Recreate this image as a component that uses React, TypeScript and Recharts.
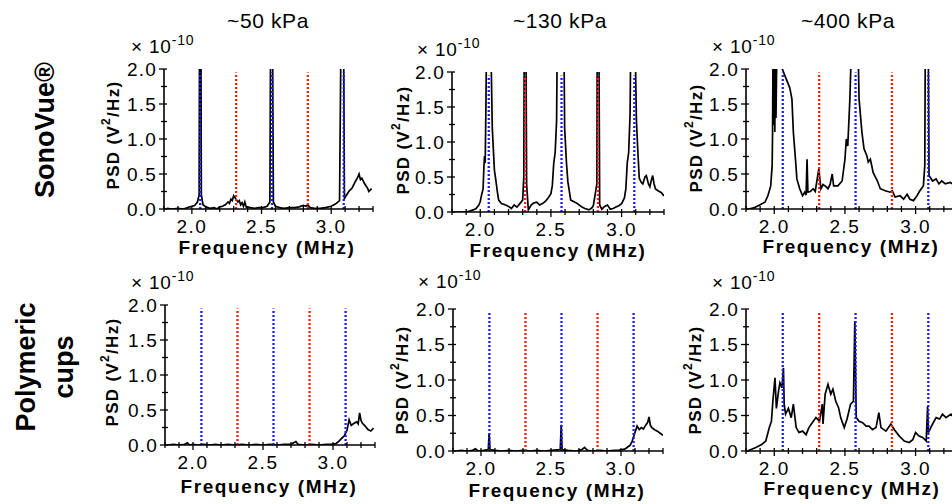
import { Line, LineChart, ReferenceLine, XAxis, YAxis } from 'recharts'

const FONT = "Arial, 'Liberation Sans', sans-serif"

// PSD values in units of 1e-10 V^2/Hz, [frequency MHz, psd]
const sono50 = [
  [1.82, 0.01], [1.86, 0.0], [1.9, 0.01], [1.94, 0.0], [1.97, 0.02], [2.0, 0.04], [2.02, 0.05], [2.04, 0.1],
  [2.052, 0.2], [2.057, 4], [2.063, 4], [2.068, 0.2], [2.08, 0.06], [2.1, 0.03], [2.13, 0.01], [2.16, 0.02],
  [2.18, 0.0], [2.2, 0.03], [2.22, 0.04], [2.24, 0.06], [2.26, 0.1], [2.27, 0.08], [2.28, 0.14], [2.29, 0.12],
  [2.3, 0.19], [2.31, 0.16], [2.32, 0.13], [2.33, 0.1], [2.34, 0.12], [2.35, 0.06], [2.36, 0.09], [2.37, 0.04],
  [2.38, 0.1], [2.39, 0.03], [2.42, 0.02], [2.45, 0.01], [2.48, 0.02], [2.51, 0.02], [2.54, 0.04], [2.56, 0.1],
  [2.568, 4], [2.575, 4], [2.585, 0.1], [2.6, 0.04], [2.63, 0.02], [2.66, 0.01], [2.7, 0.02], [2.74, 0.02],
  [2.77, 0.03], [2.8, 0.05], [2.82, 0.04], [2.83, 0.06], [2.85, 0.02], [2.88, 0.01], [2.92, 0.01], [2.96, 0.02],
  [3.0, 0.04], [3.03, 0.07], [3.06, 0.12], [3.077, 4], [3.085, 4], [3.095, 0.15], [3.11, 0.2], [3.13, 0.26],
  [3.15, 0.3], [3.17, 0.38], [3.19, 0.45], [3.2, 0.5], [3.21, 0.42], [3.22, 0.44], [3.24, 0.36], [3.26, 0.3],
  [3.27, 0.25], [3.29, 0.29],
]

const sono130 = [
  [1.82, 0.0], [1.88, 0.0], [1.92, 0.01], [1.95, 0.03], [1.97, 0.05], [1.99, 0.1], [2.0, 0.15], [2.01, 0.25],
  [2.02, 0.33], [2.025, 0.6], [2.03, 0.8], [2.035, 0.7], [2.04, 1.5], [2.045, 2.6], [2.055, 3.5], [2.065, 3.2],
  [2.075, 2.4], [2.085, 1.2], [2.1, 0.6], [2.11, 0.46], [2.12, 0.3], [2.13, 0.17], [2.15, 0.12], [2.18, 0.1],
  [2.2, 0.08], [2.22, 0.05], [2.24, 0.1], [2.26, 0.07], [2.28, 0.12], [2.3, 0.17], [2.308, 0.5], [2.312, 3],
  [2.322, 3], [2.328, 0.4], [2.34, 0.03], [2.36, 0.1], [2.38, 0.13], [2.4, 0.14], [2.42, 0.1], [2.44, 0.12],
  [2.46, 0.15], [2.48, 0.2], [2.5, 0.26], [2.51, 0.38], [2.52, 0.7], [2.53, 0.85], [2.54, 1.3], [2.545, 2.5],
  [2.56, 3.5], [2.58, 3], [2.592, 2.4], [2.597, 1.2], [2.61, 0.7], [2.62, 0.43], [2.64, 0.17], [2.66, 0.15],
  [2.68, 0.13], [2.7, 0.1], [2.72, 0.07], [2.74, 0.05], [2.77, 0.03], [2.79, 0.06], [2.8, 0.09], [2.825, 0.4],
  [2.828, 3], [2.838, 3], [2.845, 0.1], [2.86, 0.04], [2.88, 0.08], [2.9, 0.1], [2.92, 0.04], [2.94, 0.05],
  [2.96, 0.07], [2.98, 0.09], [3.0, 0.12], [3.02, 0.2], [3.03, 0.33], [3.04, 0.7], [3.05, 0.85], [3.06, 1.4],
  [3.065, 2.5], [3.08, 3.5], [3.095, 2.5], [3.105, 1.3], [3.115, 0.86], [3.125, 0.48], [3.14, 0.42], [3.15, 0.4],
  [3.165, 0.5], [3.175, 0.52], [3.19, 0.4], [3.2, 0.36], [3.21, 0.45], [3.22, 0.52], [3.23, 0.4], [3.24, 0.33],
  [3.26, 0.3], [3.28, 0.28], [3.3, 0.23],
]

const sono400 = [
  [1.82, 0.0], [1.86, 0.02], [1.9, 0.06], [1.935, 0.1], [1.955, 0.19], [1.975, 0.33], [1.985, 0.62], [1.988, 1.1],
  [1.992, 2.6], [1.996, 1.2], [2.0, 2.6], [2.004, 1.1], [2.008, 2.6], [2.012, 1.3], [2.02, 2.5], [2.04, 2.6],
  [2.053, 2.02], [2.08, 1.88], [2.1, 1.78], [2.11, 1.73], [2.125, 1.57], [2.135, 1.1], [2.15, 0.71], [2.16, 0.43],
  [2.18, 0.29], [2.2, 0.19], [2.215, 0.24], [2.225, 0.2], [2.232, 0.71], [2.238, 0.24], [2.255, 0.25], [2.275, 0.29],
  [2.29, 0.25], [2.3, 0.38], [2.315, 0.57], [2.33, 0.29], [2.345, 0.35], [2.36, 0.33], [2.38, 0.29], [2.395, 0.35],
  [2.41, 0.5], [2.42, 0.33], [2.45, 0.33], [2.48, 0.4], [2.5, 0.71], [2.51, 1.0], [2.52, 0.9], [2.535, 1.57],
  [2.55, 2.6], [2.57, 3], [2.59, 2.6], [2.6, 1.57], [2.62, 1.1], [2.635, 0.86], [2.655, 0.76], [2.665, 0.67],
  [2.68, 0.71], [2.7, 0.52], [2.73, 0.4], [2.75, 0.29], [2.785, 0.26], [2.82, 0.24], [2.835, 0.26], [2.855, 0.17],
  [2.89, 0.19], [2.915, 0.14], [2.94, 0.21], [2.96, 0.14], [2.985, 0.12], [3.01, 0.19], [3.03, 0.26], [3.055, 0.33],
  [3.065, 0.62], [3.072, 4], [3.085, 4], [3.095, 0.48], [3.12, 0.4], [3.145, 0.43], [3.165, 0.36], [3.185, 0.4],
  [3.21, 0.36], [3.245, 0.38], [3.27, 0.35], [3.3, 0.3],
]

const cups50 = [
  [1.82, 0.0], [1.86, 0.01], [1.9, 0.0], [1.94, 0.01], [1.96, 0.03], [1.975, 0.0], [2.0, 0.01], [2.04, 0.0],
  [2.08, 0.01], [2.12, 0.0], [2.16, 0.01], [2.2, 0.0], [2.25, 0.01], [2.3, 0.0], [2.35, 0.01], [2.4, 0.0],
  [2.45, 0.01], [2.5, 0.0], [2.55, 0.01], [2.6, 0.0], [2.65, 0.01], [2.7, 0.01], [2.735, 0.05], [2.75, 0.01],
  [2.8, 0.0], [2.85, 0.01], [2.9, 0.0], [2.95, 0.01], [2.99, 0.01], [3.02, 0.02], [3.04, 0.05], [3.06, 0.09],
  [3.08, 0.13], [3.1, 0.21], [3.115, 0.36], [3.13, 0.28], [3.15, 0.31], [3.17, 0.33], [3.18, 0.3], [3.19, 0.46],
  [3.2, 0.35], [3.21, 0.31], [3.23, 0.27], [3.25, 0.22], [3.27, 0.2], [3.29, 0.24],
]

const cups130 = [
  [1.82, 0.0], [1.86, 0.01], [1.9, 0.0], [1.94, 0.01], [1.96, 0.03], [1.98, 0.0], [2.02, 0.01], [2.052, 0.02],
  [2.058, 0.25], [2.064, 0.02], [2.1, 0.01], [2.15, 0.0], [2.2, 0.01], [2.25, 0.0], [2.3, 0.01], [2.35, 0.0],
  [2.4, 0.01], [2.45, 0.0], [2.5, 0.01], [2.566, 0.02], [2.573, 0.37], [2.579, 0.02], [2.62, 0.01], [2.68, 0.0],
  [2.72, 0.02], [2.74, 0.05], [2.76, 0.01], [2.8, 0.0], [2.85, 0.01], [2.9, 0.0], [2.95, 0.01], [2.98, 0.01],
  [3.01, 0.02], [3.03, 0.03], [3.05, 0.06], [3.065, 0.08], [3.08, 0.14], [3.1, 0.26], [3.115, 0.35], [3.13, 0.3],
  [3.145, 0.33], [3.16, 0.31], [3.175, 0.36], [3.19, 0.4], [3.2, 0.48], [3.21, 0.36], [3.22, 0.33], [3.24, 0.3],
  [3.26, 0.28], [3.28, 0.25], [3.3, 0.22],
]

const cups400 = [
  [1.81, 0.0], [1.87, 0.05], [1.91, 0.09], [1.94, 0.14], [1.965, 0.33], [1.98, 0.42], [1.99, 0.7], [2.005, 1.03],
  [2.015, 0.6], [2.03, 0.84], [2.04, 0.96], [2.055, 0.89], [2.065, 1.17], [2.07, 0.66], [2.08, 0.52], [2.1, 0.6],
  [2.12, 0.47], [2.135, 0.66], [2.155, 0.33], [2.175, 0.26], [2.2, 0.28], [2.225, 0.23], [2.245, 0.33], [2.27, 0.4],
  [2.295, 0.47], [2.32, 0.42], [2.34, 0.66], [2.345, 0.38], [2.36, 0.8], [2.38, 0.94], [2.4, 0.8], [2.415, 0.87],
  [2.435, 0.7], [2.455, 0.61], [2.47, 0.47], [2.495, 0.33], [2.515, 0.45], [2.54, 0.66], [2.56, 0.7], [2.57, 1.83],
  [2.58, 0.47], [2.6, 0.42], [2.625, 0.4], [2.65, 0.35], [2.67, 0.35], [2.695, 0.3], [2.72, 0.33], [2.74, 0.54],
  [2.755, 0.33], [2.79, 0.28], [2.825, 0.38], [2.85, 0.3], [2.885, 0.21], [2.92, 0.14], [2.955, 0.12], [2.98, 0.16],
  [3.0, 0.26], [3.025, 0.21], [3.05, 0.19], [3.075, 0.14], [3.085, 0.63], [3.09, 0.26], [3.12, 0.38], [3.145, 0.47],
  [3.17, 0.45], [3.19, 0.52], [3.215, 0.47], [3.25, 0.52], [3.3, 0.4],
]

const titles = ['~50 kPa', '~130 kPa', '~400 kPa']
const harmonics = [2.06, 2.575, 3.09]
const ultraharmonics = [2.3175, 2.8325]
const xTicks = [1.8, 1.9, 2.0, 2.1, 2.2, 2.3, 2.4, 2.5, 2.6, 2.7, 2.8, 2.9, 3.0, 3.1, 3.2, 3.3]
const xLabels = [2.0, 2.5, 3.0]
const yTicks = [0, 0.25, 0.5, 0.75, 1.0, 1.25, 1.5, 1.75, 2.0]
const yLabels = [0, 0.5, 1.0, 1.5, 2.0]

type Box = { x0: number; x1: number; y0: number; y1: number }

const panels: Array<{ data: number[][]; box: Box }> = [
  { data: sono50, box: { x0: 164, x1: 373, y0: 69, y1: 209 } },
  { data: sono130, box: { x0: 452, x1: 664, y0: 72, y1: 212 } },
  { data: sono400, box: { x0: 746, x1: 958, y0: 69, y1: 209 } },
  { data: cups50, box: { x0: 165, x1: 375, y0: 305, y1: 445 } },
  { data: cups130, box: { x0: 453, x1: 663, y0: 309, y1: 451 } },
  { data: cups400, box: { x0: 746, x1: 958, y0: 309, y1: 451 } },
]

const isLabel = (v: number, list: number[]) => list.some((l) => Math.abs(l - v) < 1e-6)

function XTick({ x, y, payload }: any) {
  const v = payload.value as number
  const major = isLabel(v, xLabels)
  return (
    <g>
      <line x1={x} x2={x} y1={y - 3} y2={y + (major ? 5 : 3)} stroke="#000" strokeWidth={1.3} />
      {major ? (
        <text x={x} y={y + 17} textAnchor="middle" dominantBaseline="central" fontSize={19} letterSpacing={1.5} fill="#000" fontFamily={FONT}>
          {v.toFixed(1)}
        </text>
      ) : null}
    </g>
  )
}

function YTick({ x, y, payload }: any) {
  const v = payload.value as number
  const major = isLabel(v, yLabels)
  return (
    <g>
      <line x1={x - (major ? 5 : 3)} x2={x + 3} y1={y} y2={y} stroke="#000" strokeWidth={1.3} />
      {major ? (
        <text x={x - 7} y={y} textAnchor="end" dominantBaseline="central" fontSize={19} letterSpacing={1.2} fill="#000" fontFamily={FONT}>
          {v.toFixed(1)}
        </text>
      ) : null}
    </g>
  )
}

const ML = 50
const MT = 10
const MR = 14
const MB = 30

function Panel({ data, box }: { data: number[][]; box: Box }) {
  const rows = data.map(([f, p]) => ({ f, p }))
  const width = box.x1 - box.x0 + ML + MR
  const height = box.y1 - box.y0 + MT + MB
  return (
    <div style={{ position: 'absolute', left: box.x0 - ML, top: box.y0 - MT }}>
      <LineChart width={width} height={height} data={rows} margin={{ top: MT, right: MR, left: 0, bottom: 0 }}>
        <XAxis
          type="number"
          dataKey="f"
          domain={[1.8, 3.3]}
          ticks={xTicks}
          interval={0}
          allowDataOverflow
          height={MB}
          tickSize={0}
          tickMargin={0}
          tickLine={false}
          tick={<XTick />}
          axisLine={{ stroke: '#000', strokeWidth: 1.6 }}
        />
        <YAxis
          type="number"
          domain={[0, 2]}
          ticks={yTicks}
          interval={0}
          allowDataOverflow
          width={ML}
          tickSize={0}
          tickMargin={0}
          tickLine={false}
          tick={<YTick />}
          axisLine={{ stroke: '#000', strokeWidth: 1.6 }}
        />
        <Line dataKey="p" type="linear" stroke="#000" strokeWidth={1.7} dot={false} isAnimationActive={false} />
        {harmonics.map((f) => (
          <ReferenceLine
            key={`h${f}`}
            segment={[{ x: f, y: 0 }, { x: f, y: 1.95 }]}
            stroke="#1a1aff"
            strokeWidth={2.3}
            strokeDasharray="2 2"
          />
        ))}
        {ultraharmonics.map((f) => (
          <ReferenceLine
            key={`u${f}`}
            segment={[{ x: f, y: 0 }, { x: f, y: 1.95 }]}
            stroke="#ff1a1a"
            strokeWidth={2.3}
            strokeDasharray="2 2"
          />
        ))}
      </LineChart>
    </div>
  )
}

function Exponent({ x, y }: { x: number; y: number }) {
  return (
    <text x={x} y={y} fontSize={19} letterSpacing={0.8} fill="#000">
      × 10
      <tspan dy={-8} fontSize={14}>
        -10
      </tspan>
    </text>
  )
}

function PsdLabel({ cx, cy }: { cx: number; cy: number }) {
  return (
    <text
      transform={`translate(${cx},${cy}) rotate(-90)`}
      textAnchor="middle"
      dominantBaseline="central"
      fontSize={17}
      fontWeight="bold"
      letterSpacing={1.3}
      fill="#000"
    >
      PSD (V
      <tspan dy={-7} fontSize={12}>
        2
      </tspan>
      <tspan dy={7}>/Hz)</tspan>
    </text>
  )
}

function FreqLabel({ cx, cy }: { cx: number; cy: number }) {
  return (
    <text x={cx} y={cy} textAnchor="middle" dominantBaseline="central" fontSize={19} fontWeight="bold" letterSpacing={1.6} fill="#000">
      Frequency (MHz)
    </text>
  )
}

export default function App() {
  return (
    <div
      style={{
        position: 'absolute',
        left: 0,
        top: 0,
        width: 952,
        height: 504,
        overflow: 'hidden',
        background: '#fff',
        fontFamily: FONT,
      }}
    >
      {panels.map((p, i) => (
        <Panel key={i} data={p.data} box={p.box} />
      ))}
      <svg width={952} height={504} style={{ position: 'absolute', left: 0, top: 0, pointerEvents: 'none' }} fontFamily={FONT}>
        <text x={268} y={28} textAnchor="middle" fontSize={21} letterSpacing={0.6}>{titles[0]}</text>
        <text x={560} y={28} textAnchor="middle" fontSize={21} letterSpacing={0.6}>{titles[1]}</text>
        <text x={848} y={28} textAnchor="middle" fontSize={21} letterSpacing={0.6}>{titles[2]}</text>

        <Exponent x={131} y={53} />
        <Exponent x={417} y={56} />
        <Exponent x={712} y={53} />
        <Exponent x={131} y={289} />
        <Exponent x={418} y={288} />
        <Exponent x={712} y={289} />

        <PsdLabel cx={113} cy={135} />
        <PsdLabel cx={403} cy={140} />
        <PsdLabel cx={696} cy={138} />
        <PsdLabel cx={112} cy={372} />
        <PsdLabel cx={402} cy={380} />
        <PsdLabel cx={695} cy={380} />

        <FreqLabel cx={267} cy={247} />
        <FreqLabel cx={558} cy={250} />
        <FreqLabel cx={851} cy={246} />
        <FreqLabel cx={269} cy={486} />
        <FreqLabel cx={557} cy={490} />
        <FreqLabel cx={852} cy={488} />

        <text transform="translate(45,130) rotate(-90)" textAnchor="middle" dominantBaseline="central" fontSize={27} fontWeight="bold">
          SonoVue®
        </text>
        <text transform="translate(26,367) rotate(-90)" textAnchor="middle" dominantBaseline="central" fontSize={27} fontWeight="bold">
          Polymeric
        </text>
        <text transform="translate(64,367) rotate(-90)" textAnchor="middle" dominantBaseline="central" fontSize={27} fontWeight="bold">
          cups
        </text>
      </svg>
    </div>
  )
}
